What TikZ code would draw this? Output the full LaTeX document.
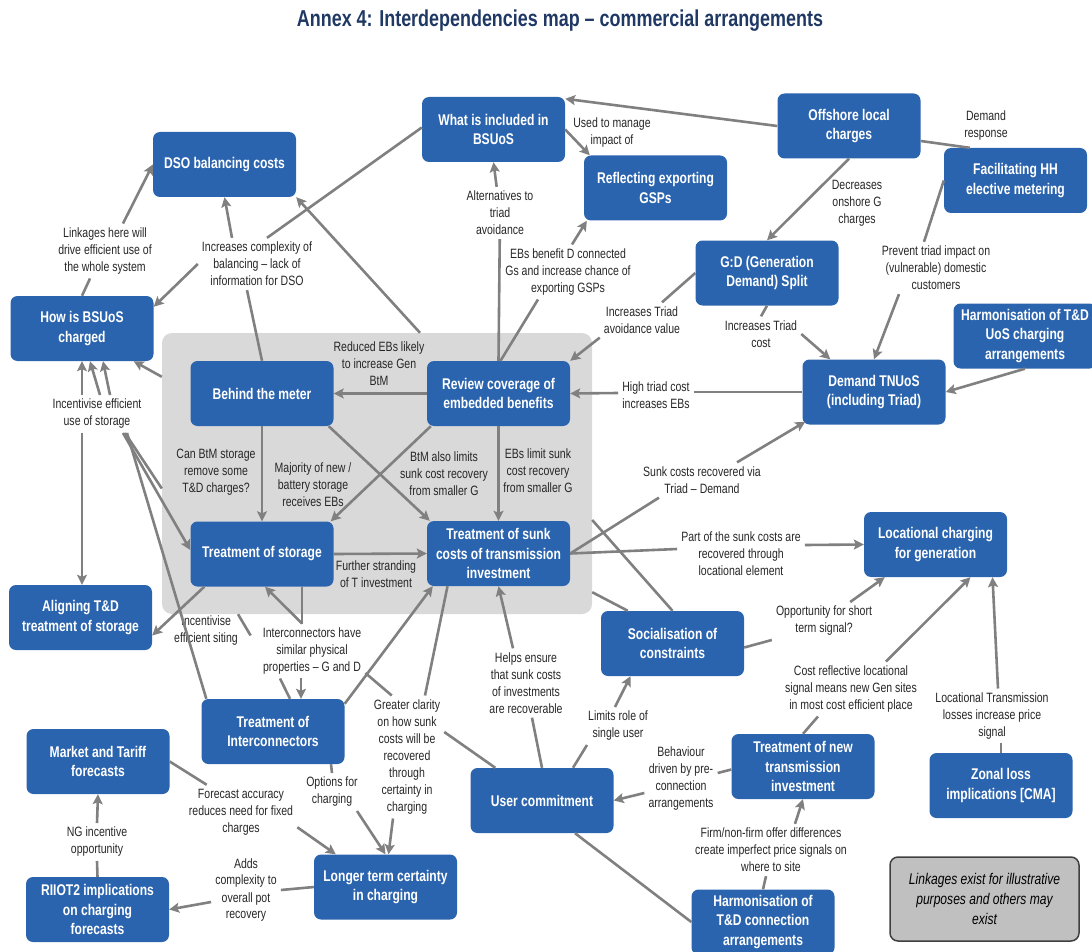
\documentclass[tikz,border=0pt]{standalone}
\usepackage{fontspec}
\setmainfont{Liberation Sans}[FakeStretch=0.78]
\usetikzlibrary{arrows.meta}
\definecolor{boxblue}{RGB}{43,100,174}
\definecolor{linegrey}{RGB}{128,128,128}
\definecolor{labgrey}{RGB}{38,38,38}
\definecolor{titleblue}{RGB}{31,56,100}
\definecolor{regiongrey}{RGB}{217,217,217}
\definecolor{notegrey}{RGB}{192,192,192}
\begin{document}
\begin{tikzpicture}[x=1pt, y=-1pt,
  box/.style={rectangle, rounded corners=7pt, fill=boxblue, text=white, align=center,
    font=\fontsize{15.5}{19.5}\selectfont\bfseries, minimum width=143pt, minimum height=65pt, inner sep=2pt},
  lab/.style={align=center, text=labgrey, font=\fontsize{13.5}{17}\selectfont, inner sep=4pt},
  region/.style={rectangle, rounded corners=10pt, fill=regiongrey, minimum width=430pt, minimum height=281pt, inner sep=0pt},
  notebox/.style={rectangle, rounded corners=8pt, fill=notegrey, draw=black!75, line width=1.5pt, align=center,
    font=\fontsize{15.5}{20}\selectfont\itshape, minimum width=189pt, minimum height=84pt},
  titl/.style={text=titleblue, font=\fontsize{23}{27}\selectfont\bfseries},
  lnk/.style={draw=linegrey, line width=2.6pt},
  lnkarr/.style={lnk, -{Stealth[length=10pt,width=10pt,inset=2pt]}}]
\useasboundingbox (0,0) rectangle (1092,952);
\node[titl] (tid) at (560,21) {Annex 4: Interdependencies map – commercial arrangements};
\node[region] (grp) at (377,473.5) {};
\node[box] (bid0) at (224.5,164.5) {DSO balancing costs};
\node[box] (bid1) at (493.5,129.5) {What is included in\\BSUoS};
\node[box] (bid2) at (655.5,188) {Reflecting exporting\\GSPs};
\node[box] (bid3) at (849,126) {Offshore local\\charges};
\node[box] (bid4) at (1015.5,180.5) {Facilitating HH\\elective metering};
\node[box] (bid5) at (767,273) {G:D (Generation\\Demand) Split};
\node[box] (bid6) at (1025,336) {Harmonisation of T\&D\\UoS charging\\arrangements};
\node[box] (bid7) at (874,392) {Demand TNUoS\\(including Triad)};
\node[box] (bid8) at (82,328.5) {How is BSUoS\\charged};
\node[box] (bid9) at (262,393.5) {Behind the meter};
\node[box] (bid10) at (262,554) {Treatment of storage};
\node[box] (bid11) at (80.5,617.5) {Aligning T\&D\\treatment of storage};
\node[box] (bid12) at (498.5,393.5) {Review coverage of\\embedded benefits};
\node[box] (bid13) at (498.5,553.5) {Treatment of sunk\\costs of transmission\\investment};
\node[box] (bid14) at (935.5,544.5) {Locational charging\\for generation};
\node[box] (bid15) at (672.5,643.5) {Socialisation of\\constraints};
\node[box] (bid16) at (273,731.5) {Treatment of\\Interconnectors};
\node[box] (bid17) at (98,761.5) {Market and Tariff\\forecasts};
\node[box] (bid18) at (97.5,909.5) {RIIOT2 implications\\on charging\\forecasts};
\node[box] (bid19) at (385.5,887) {Longer term certainty\\in charging};
\node[box] (bid20) at (542,800.5) {User commitment};
\node[box] (bid21) at (803,766.5) {Treatment of new\\transmission\\investment};
\node[box] (bid22) at (1001,785.5) {Zonal loss\\implications [CMA]};
\node[box] (bid23) at (763,922) {Harmonisation of\\T\&D connection\\arrangements};
\node[notebox] (note) at (984.5,899) {Linkages exist for illustrative\\purposes and others may\\exist};
\node[lab] (lid0) at (105,251) {Linkages here will\\drive efficient use of\\the whole system};
\node[lab] (lid1) at (257,264) {Increases complexity of\\balancing – lack of\\information for DSO};
\node[lab] (lid2) at (612,133) {Used to manage\\impact of};
\node[lab] (lid3) at (500,213) {Alternatives to\\triad\\avoidance};
\node[lab] (lid4) at (568,272) {EBs benefit D connected\\Gs and increase chance of\\exporting GSPs};
\node[lab] (lid5) at (642,320) {Increases Triad\\avoidance value};
\node[lab] (lid6) at (761,334) {Increases Triad\\cost};
\node[lab] (lid7) at (857,203) {Decreases\\onshore G\\charges};
\node[lab] (lid8) at (986,126) {Demand\\response};
\node[lab] (lid9) at (936,268) {Prevent triad impact on\\(vulnerable) domestic\\customers};
\node[lab] (lid10) at (656,395) {High triad cost\\increases EBs};
\node[lab] (lid11) at (379,364) {Reduced EBs likely\\to increase Gen\\BtM};
\node[lab] (lid12) at (444,474) {BtM also limits\\sunk cost recovery\\from smaller G};
\node[lab] (lid13) at (538,471) {EBs limit sunk\\cost recovery\\from smaller G};
\node[lab] (lid14) at (376,574) {Further stranding\\of T investment};
\node[lab] (lid15) at (216,472) {Can BtM storage\\remove some\\T\&D charges?};
\node[lab] (lid16) at (313,485) {Majority of new /\\battery storage\\receives EBs};
\node[lab] (lid17) at (97,414) {Incentivise efficient\\use of storage};
\node[lab] (lid18) at (206,631) {Incentivise\\efficient siting};
\node[lab] (lid19) at (312,651) {Interconnectors have\\similar physical\\properties – G and D};
\node[lab] (lid20) at (407,757) {Greater clarity\\on how sunk\\costs will be\\recovered\\through\\certainty in\\charging};
\node[lab] (lid21) at (332,792) {Options for\\charging};
\node[lab] (lid22) at (241,812) {Forecast accuracy\\reduces need for fixed\\charges};
\node[lab] (lid23) at (97,842) {NG incentive\\opportunity};
\node[lab] (lid24) at (246,890) {Adds\\complexity to\\overall pot\\recovery};
\node[lab] (lid25) at (526,683) {Helps ensure\\that sunk costs\\of investments\\are recoverable};
\node[lab] (lid26) at (618,726) {Limits role of\\single user};
\node[lab] (lid27) at (681,779) {Behaviour\\driven by pre-\\connection\\arrangements};
\node[lab] (lid28) at (771,850) {Firm/non-firm offer differences\\create imperfect price signals on\\where to site};
\node[lab] (lid29) at (702,480) {Sunk costs recovered via\\Triad – Demand};
\node[lab] (lid30) at (741,554) {Part of the sunk costs are\\recovered through\\locational element};
\node[lab] (lid31) at (824,621) {Opportunity for short\\term signal?};
\node[lab] (lid32) at (851,689) {Cost reflective locational\\signal means new Gen sites\\in most cost efficient place};
\node[lab] (lid33) at (992,716) {Locational Transmission\\losses increase price\\signal};
\draw[lnkarr](bid3.west) -- ([yshift=-2pt]bid1.north east);
\draw[lnkarr](bid1.east) -- ([xshift=6pt]bid2.north west);
\draw[lnk]([yshift=2pt]bid1.west) -- ([xshift=10pt]lid1.north);
\draw[lnk](bid9.north) -- ([xshift=-10pt]lid1.south);
\draw[lnkarr]([xshift=-25pt]lid1.north) -- (bid0.south);
\draw[lnkarr](lid1.west) -- ([yshift=-11pt]bid8.north east);
\draw[lnkarr]([xshift=43pt]grp.north) -- (bid0.south east);
\draw[lnkarr](bid12.west) -- (bid9.east);
\draw[lnk](bid12.north) -- (lid3);
\draw[lnkarr](lid3) -- (bid1.south);
\draw[lnk]([xshift=2pt]bid12.north) -- ([xshift=-30pt]lid4.south);
\draw[lnkarr]([xshift=4pt]lid4.north) -- ([xshift=3pt]bid2.south west);
\draw[lnk](bid5.west) -- ([xshift=20pt]lid5.north);
\draw[lnkarr](lid5.south west) -- (bid12.north east);
\draw[lnk](bid5.south) -- (lid6.north);
\draw[lnkarr](lid6.east) -- ([xshift=28pt]bid7.north west);
\draw[lnkarr](bid3.south) -- (bid5.north);
\draw[lnk]([yshift=-15pt]bid3.east) -- ([xshift=26pt]bid4.north west);
\draw[lnk](bid4.west) -- ([xshift=-12pt]lid9.north);
\draw[lnkarr]([xshift=-37pt]lid9.south) -- (bid7.north);
\draw[lnkarr](bid6.south) -- (bid7.east);
\draw[lnk](bid7.west) -- ([yshift=3pt]lid10.east);
\draw[lnkarr]([yshift=2pt]lid10.west) -- (bid12.east);
\draw[lnk](bid13.east) -- ([xshift=20pt]lid29.south west);
\draw[lnkarr]([xshift=35pt]lid29.north) -- ([xshift=3pt,yshift=3pt]bid7.south west);
\draw[lnk](bid13.east) -- ([yshift=5pt]lid30.west);
\draw[lnkarr]([yshift=9pt]lid30.east) -- (bid14.west);
\draw[lnkarr]([xshift=-5pt]bid9.south east) -- ([xshift=3pt]bid13.north west);
\draw[lnkarr]([xshift=4pt]bid12.south west) -- ([xshift=-3pt]bid10.north east);
\draw[lnkarr](bid12.south) -- (bid13.north);
\draw[lnkarr](bid9.south) -- (bid10.north);
\draw[lnkarr](bid10.east) -- (bid13.west);
\draw[lnkarr]([yshift=-44pt]grp.north west) -- ([xshift=-20pt]bid8.south east);
\draw[lnkarr]([xshift=-15pt]lid17.north) -- (bid8.south);
\draw[lnkarr]([xshift=3pt]lid17.north) -- ([xshift=8pt]bid8.south);
\draw[lnkarr]([xshift=13pt]lid17.north) -- ([xshift=21pt]bid8.south);
\draw[lnkarr]([xshift=-15pt]lid17.south) -- ([xshift=1.5pt]bid11.north);
\draw[lnkarr]([xshift=26pt]lid17.south) -- ([yshift=4pt]bid10.west);
\draw[lnk]([xshift=28pt]lid17.south) -- ([yshift=-15pt]grp.west);
\draw[lnk]([xshift=30pt]lid17.south) -- ([xshift=5pt]bid16.north west);
\draw[lnkarr]([xshift=14pt]bid10.south west) -- ([yshift=-18pt]bid11.east);
\draw[lnk]([xshift=40pt]bid10.south) -- ([xshift=-10pt]lid19.north);
\draw[lnkarr]([xshift=-10pt]lid19.north) -- ([xshift=3pt]bid10.south);
\draw[lnkarr]([xshift=-11pt]lid19.south) -- ([xshift=28pt]bid16.north);
\draw[lnk]([xshift=-32pt]lid19.south) -- ([xshift=17pt]bid16.north);
\draw[lnk]([xshift=-139pt]grp.south) -- ([xshift=-8pt,yshift=-12pt]lid19.north west);
\draw[lnk]([yshift=-22pt]lid19.east) -- ([xshift=22pt]lid20.north west);
\draw[lnk]([yshift=25pt]lid20.east) -- ([xshift=25pt]bid20.north west);
\draw[lnkarr]([yshift=-5pt]bid16.north east) -- ([xshift=6pt]bid13.south west);
\draw[lnk]([xshift=-51pt]bid13.south) -- ([xshift=18pt]lid20.north);
\draw[lnkarr]([xshift=-14pt]lid20.south) -- ([xshift=3pt]bid19.north);
\draw[lnk]([xshift=58pt]bid16.south) -- (lid21.north);
\draw[lnkarr]([xshift=25pt]lid21.south) -- (bid19.north);
\draw[lnk](bid17.east) -- ([xshift=22pt]lid22.north west);
\draw[lnkarr]([yshift=12pt]lid22.south east) -- ([xshift=22pt]bid19.north west);
\draw[lnk](bid18.north) -- (lid23.south);
\draw[lnkarr](lid23.north) -- (bid17.south);
\draw[lnk](bid19.west) -- (lid24.east);
\draw[lnkarr]([yshift=-12pt]lid24.west) -- (bid18.east);
\draw[lnk](bid20.north) -- ([xshift=6pt]lid25.south);
\draw[lnkarr]([xshift=-13pt]lid25.north) -- (bid13.south);
\draw[lnk]([xshift=31pt]bid20.north) -- ([xshift=-31pt]lid26.south);
\draw[lnkarr]([xshift=-3pt]lid26.north) -- ([xshift=-42pt]bid15.south);
\draw[lnk]([yshift=-3pt]bid21.west) -- ([yshift=6pt]lid27.east);
\draw[lnkarr]([yshift=-14pt]lid27.west) -- (bid20.east);
\draw[lnk](bid23.north) -- ([xshift=-5pt]lid28.south);
\draw[lnkarr]([xshift=24pt]lid28.north) -- (bid21.south);
\draw[lnk]([xshift=33pt]bid20.south) -- (bid23.west);
\draw[lnk]([yshift=-46.5pt]grp.east) -- (bid15.north);
\draw[lnk]([yshift=22pt]grp.south east) -- ([xshift=27pt]bid15.north west);
\draw[lnk]([yshift=-4pt]bid15.east) -- (lid31.south west);
\draw[lnkarr]([xshift=-26pt]lid31.north east) -- ([xshift=21pt]bid14.south west);
\draw[lnk](bid21.north) -- ([xshift=-33pt]lid32.south);
\draw[lnkarr]([xshift=35pt]lid32.north) -- ([xshift=35pt]bid14.south);
\draw[lnk](bid22.north) -- ([xshift=9pt]lid33.south);
\draw[lnkarr]([xshift=6pt]lid33.north) -- ([xshift=57pt]bid14.south);
\draw[lnk](bid8.north) -- ([xshift=-15pt]lid0.south);
\draw[lnkarr]([xshift=18pt]lid0.north) -- (bid0.west);
\end{tikzpicture}
\end{document}
